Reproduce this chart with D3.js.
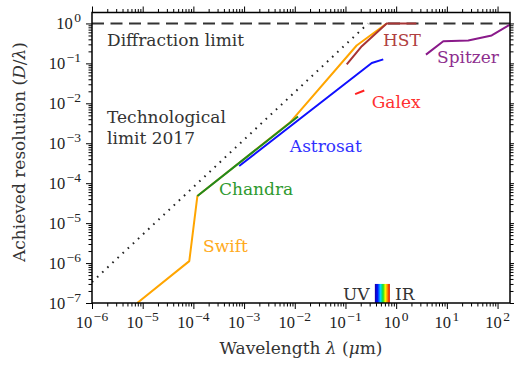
<!DOCTYPE html>
<html>
<head>
<meta charset="utf-8">
<script src="https://cdn.jsdelivr.net/npm/d3@7"></script>
<style>
  body { margin: 0; background: #fff; }
</style>
</head>
<body>
<svg id="chart" width="514" height="367"></svg>
<script>
// wavelength (um) / resolution pairs
const swiftX = [7.8e-6, 8.3e-5, 1.2e-4, 8e-3, 0.166, 0.65];
const swiftY = [1e-7, 1.12e-6, 4.8e-5, 3.3e-3, 0.28, 1];
const chandraX = [1.2e-4, 0.0116];
const chandraY = [4.8e-5, 4.7e-3];
const astrosatX = [8e-4, 0.33, 0.557];
const astrosatY = [2.7e-4, 0.102, 0.126];
const galexX = [0.155, 0.235];
const galexY = [0.017, 0.021];
const hstX = [0.106, 0.21, 0.65, 2.5];
const hstY = [0.094, 0.27, 1, 1];
const spitzerX = [3.87, 8.5, 26.4, 76.6, 176];
const spitzerY = [0.166, 0.36, 0.376, 0.5, 0.93];
const techX = [1e-6, 0.28];
const techY = [3.35e-7, 1];
const visibleBand = [0.38, 0.75];

const xTickExp = [-6, -5, -4, -3, -2, -1, 0, 1, 2];
const yTickExp = [-7, -6, -5, -4, -3, -2, -1, 0];

const TICKFONT = "'Liberation Serif', 'Times New Roman', serif";
const FONT = "'DejaVu Serif', serif";
const M = { left: 92, right: 510, top: 12.5, bottom: 303 };

const x = d3.scaleLog().domain([1e-6, 176]).range([M.left, M.right]);
const y = d3.scaleLog().domain([1e-7, 1.88]).range([M.bottom, M.top]);

const svg = d3.select("#chart").attr("font-family", FONT);

const defs = svg.append("defs");
defs.append("clipPath").attr("id", "plot-clip")
  .append("rect")
  .attr("x", M.left).attr("y", M.top)
  .attr("width", M.right - M.left).attr("height", M.bottom - M.top);

const grad = defs.append("linearGradient").attr("id", "rainbow")
  .attr("x1", "0%").attr("x2", "100%").attr("y1", "0%").attr("y2", "0%");
[["0%", "#1a00a0"], ["18%", "#0010ff"], ["38%", "#00d8ff"], ["55%", "#20e020"],
 ["70%", "#ffff00"], ["85%", "#ff8000"], ["100%", "#e00000"]].forEach(([o, c]) => {
  grad.append("stop").attr("offset", o).attr("stop-color", c);
});

// minor ticks at 2..9 per decade
function minors(scale) {
  const [a, b] = scale.domain();
  const out = [];
  for (let e = Math.floor(Math.log10(a)); e <= Math.ceil(Math.log10(b)); e++) {
    for (let k = 2; k <= 9; k++) {
      const v = k * Math.pow(10, e);
      if (v >= a && v <= b) out.push(v);
    }
  }
  return out;
}
const xMaj = xTickExp.map(e => Math.pow(10, e));
const yMaj = yTickExp.map(e => Math.pow(10, e));

function tickAxis(axisFn, scale, vals, size, transform) {
  svg.append("g").attr("class", "ticks").attr("transform", transform)
    .call(axisFn(scale).tickValues(vals).tickSize(size).tickFormat(""))
    .call(g => g.select(".domain").remove())
    .selectAll("line").attr("stroke", "#000").attr("stroke-width", 1);
}
tickAxis(d3.axisBottom, x, xMaj, 6, `translate(0,${M.bottom})`);
tickAxis(d3.axisBottom, x, minors(x), 3.5, `translate(0,${M.bottom})`);
tickAxis(d3.axisTop, x, xMaj, 6, `translate(0,${M.top})`);
tickAxis(d3.axisTop, x, minors(x), 3.5, `translate(0,${M.top})`);
tickAxis(d3.axisLeft, y, yMaj, 6, `translate(${M.left},0)`);
tickAxis(d3.axisLeft, y, minors(y), 3.5, `translate(${M.left},0)`);
tickAxis(d3.axisRight, y, yMaj, 6, `translate(${M.right},0)`);
tickAxis(d3.axisRight, y, minors(y), 3.5, `translate(${M.right},0)`);

// tick labels as 10^n
function powLabel(sel, e) {
  sel.append("tspan").text("10");
  sel.append("tspan").attr("dx", 1.5).attr("dy", -7).attr("font-size", 13.5)
    .text(e < 0 ? "\u2212" + Math.abs(e) : String(e));
}
svg.append("g").selectAll("text").data(xTickExp).join("text")
  .attr("x", e => x(Math.pow(10, e)))
  .attr("y", 328)
  .attr("text-anchor", "middle")
  .attr("font-family", TICKFONT)
  .attr("font-size", 16.5)
  .attr("fill", "#222")
  .each(function (e) { powLabel(d3.select(this), e); });

svg.append("g").selectAll("text").data(yTickExp).join("text")
  .attr("x", M.left - 11)
  .attr("y", e => y(Math.pow(10, e)) + 5.5)
  .attr("text-anchor", "end")
  .attr("font-family", TICKFONT)
  .attr("font-size", 16.5)
  .attr("fill", "#222")
  .each(function (e) { powLabel(d3.select(this), e); });

// plot content
const plot = svg.append("g").attr("clip-path", "url(#plot-clip)");
const line = d3.line().x(d => x(d[0])).y(d => y(d[1]));
const zip = (xs, ys) => xs.map((v, i) => [v, ys[i]]);

// visible band
plot.append("rect")
  .attr("x", x(visibleBand[0]))
  .attr("width", x(visibleBand[1]) - x(visibleBand[0]))
  .attr("y", y(3e-7))
  .attr("height", y(1e-7) - y(3e-7))
  .attr("fill", "url(#rainbow)");

plot.append("path")
  .attr("d", line(zip(x.domain(), [1, 1])))
  .attr("fill", "none").attr("stroke", "#333").attr("stroke-width", 2)
  .attr("stroke-dasharray", "12,6.5");

plot.append("path")
  .attr("d", line(zip(techX, techY)))
  .attr("fill", "none").attr("stroke", "#222").attr("stroke-width", 2)
  .attr("stroke-dasharray", "1.6,5.4");

const series = [
  { name: "Swift", xs: swiftX, ys: swiftY, color: "#ffa500" },
  { name: "Chandra", xs: chandraX, ys: chandraY, color: "#1f8a1f" },
  { name: "Astrosat", xs: astrosatX, ys: astrosatY, color: "#1010ff" },
  { name: "Galex", xs: galexX, ys: galexY, color: "#ff2020" },
  { name: "HST", xs: hstX, ys: hstY, color: "#a83535" },
  { name: "Spitzer", xs: spitzerX, ys: spitzerY, color: "#8a1a8a" },
];
plot.selectAll(".series").data(series).join("path")
  .attr("class", "series")
  .attr("d", d => line(zip(d.xs, d.ys)))
  .attr("fill", "none")
  .attr("stroke", d => d.color)
  .attr("stroke-width", 2)
  .attr("stroke-linejoin", "round");

// frame
svg.append("rect")
  .attr("x", M.left).attr("y", M.top)
  .attr("width", M.right - M.left).attr("height", M.bottom - M.top)
  .attr("fill", "none").attr("stroke", "#000").attr("stroke-width", 1.5);

// annotations, placed in data coordinates
const notes = [
  { text: "Diffraction limit", at: [1.98e-6, 0.28], color: "#333" },
  { text: "Technological", at: [1.98e-6, 3.16e-3], color: "#333" },
  { text: "limit 2017", at: [1.98e-6, 9.8e-4], color: "#333" },
  { text: "HST", at: [0.55, 0.28], color: "#b04040" },
  { text: "Spitzer", at: [6.4, 0.1], color: "#8e2e8e" },
  { text: "Galex", at: [0.33, 7.7e-3], color: "#ff3030" },
  { text: "Astrosat", at: [8.0e-3, 6.1e-4], color: "#3030ff" },
  { text: "Chandra", at: [3.2e-4, 5e-5], color: "#2e9a2e" },
  { text: "Swift", at: [1.55e-4, 1.94e-6], color: "#ffaa20" },
  { text: "UV", at: [0.089, 1.19e-7], color: "#333" },
  { text: "IR", at: [0.946, 1.19e-7], color: "#333" },
];
svg.append("g").selectAll("text").data(notes).join("text")
  .attr("x", d => x(d.at[0]))
  .attr("y", d => y(d.at[1]))
  .attr("font-family", FONT)
  .attr("font-size", 17)
  .attr("fill", d => d.color)
  .text(d => d.text);

// axis titles
const xt = svg.append("text")
  .attr("x", (M.left + M.right) / 2).attr("y", 354)
  .attr("text-anchor", "middle").attr("font-family", FONT)
  .attr("font-size", 17).attr("fill", "#333");
xt.append("tspan").text("Wavelength ");
xt.append("tspan").attr("font-style", "italic").text("\u03bb");
xt.append("tspan").text(" (");
xt.append("tspan").attr("font-style", "italic").text("\u03bc");
xt.append("tspan").text("m)");

const yt = svg.append("text")
  .attr("transform", "translate(25,152) rotate(-90)")
  .attr("text-anchor", "middle").attr("font-family", FONT)
  .attr("font-size", 17).attr("fill", "#333");
yt.append("tspan").text("Achieved resolution (");
yt.append("tspan").attr("font-style", "italic").text("D");
yt.append("tspan").text("/");
yt.append("tspan").attr("font-style", "italic").text("\u03bb");
yt.append("tspan").text(")");
</script>
</body>
</html>
